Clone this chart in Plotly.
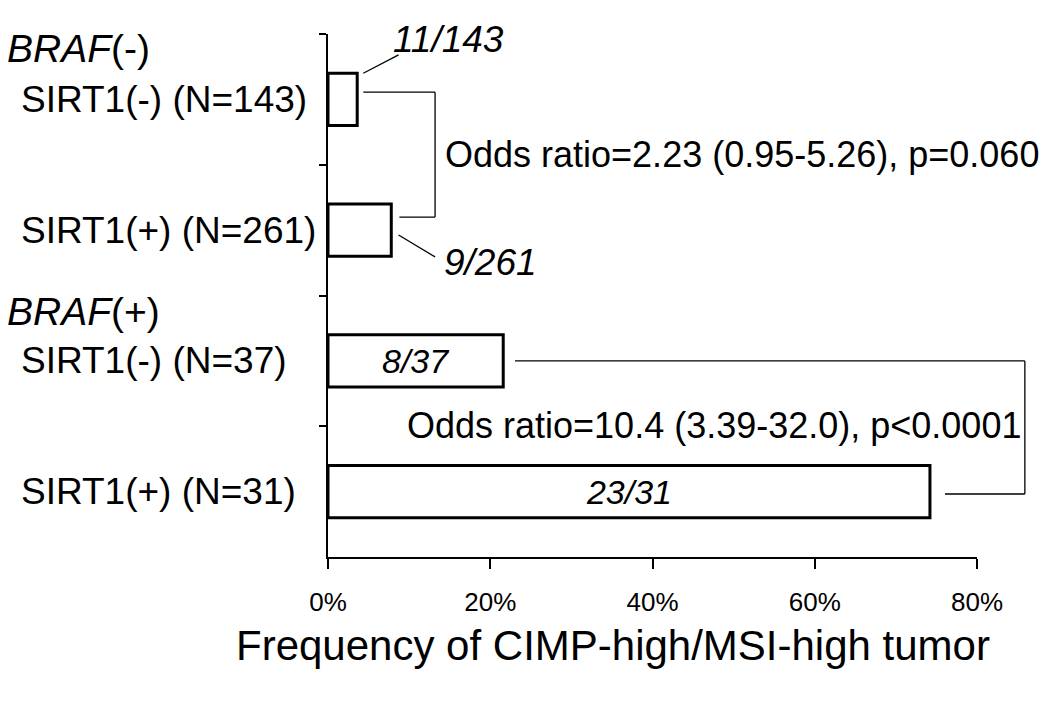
import plotly.graph_objects as go

# ---- data ----
group_labels = ["<i>BRAF</i>(-)", "<i>BRAF</i>(+)"]
categories = ["SIRT1(-) (N=143)", "SIRT1(+) (N=261)", "SIRT1(-) (N=37)", "SIRT1(+) (N=31)"]
values = [3.6, 7.8, 21.6, 74.2]  # percent
fractions = ["11/143", "9/261", "8/37", "23/31"]
odds_texts = ["Odds ratio=2.23 (0.95-5.26), p=0.060",
              "Odds ratio=10.4 (3.39-32.0), p<0.0001"]
x_ticks = [0, 20, 40, 60, 80]
x_ticklabels = ["0%", "20%", "40%", "60%", "80%"]
x_title = "Frequency of CIMP-high/MSI-high tumor"

XMAX = 80
NCAT = len(categories)
FONT = "Liberation Sans, Arial, sans-serif"

# plot area in page pixels (page body has an 8px margin)
PL, PR, PT, PB = 328, 977, 34, 557
PW, PH = PR - PL, PB - PT


def X(p):
    return p / XMAX


def Y(pos):
    return 1 - (pos + 0.5) / NCAT


def PXX(px):
    return (px - PL) / PW


def PXY(py):
    return 1 - (py - PT) / PH


inner_text = [None, None, f"<i>{fractions[2]}</i>", f"<i>{fractions[3]}</i>"]

fig = go.Figure()
fig.add_trace(go.Bar(
    x=values, y=categories, orientation="h", width=0.4,
    marker=dict(color="white", line=dict(color="black", width=3)),
    text=inner_text, textposition="inside", insidetextanchor="middle",
    constraintext="none", textangle=0,
    textfont=dict(family=FONT, size=34, color="black"),
    hoverinfo="skip",
))

shapes = []
ann = []
line = dict(color="black", width=1.3)

# Bracket 1 (BRAF-)
bx1 = values[1] + 5.4
shapes += [
    dict(type="line", xref="paper", yref="paper", x0=X(values[0] + 0.75), x1=X(bx1), y0=Y(-0.055), y1=Y(-0.055), line=line),
    dict(type="line", xref="paper", yref="paper", x0=X(values[1] + 1.0), x1=X(bx1), y0=Y(0.9), y1=Y(0.9), line=line),
    dict(type="line", xref="paper", yref="paper", x0=X(bx1), x1=X(bx1), y0=Y(-0.055), y1=Y(0.9), line=line),
]
# Bracket 2 (BRAF+)
bx2 = 85.9
shapes += [
    dict(type="line", xref="paper", yref="paper", x0=X(values[2] + 1.45), x1=X(bx2), y0=Y(2.0), y1=Y(2.0), line=line),
    dict(type="line", xref="paper", yref="paper", x0=X(values[3] + 1.85), x1=X(bx2), y0=Y(3.018), y1=Y(3.018), line=line),
    dict(type="line", xref="paper", yref="paper", x0=X(bx2), x1=X(bx2), y0=Y(2.0), y1=Y(3.018), line=line),
]
# Leader lines for outside labels
shapes += [
    dict(type="line", xref="paper", yref="paper", x0=X(values[0] + 0.75), x1=X(values[0] + 5.1),
         y0=Y(-0.2), y1=Y(-0.34), line=line),
    dict(type="line", xref="paper", yref="paper", x0=X(values[1] + 0.9), x1=X(values[1] + 5.4),
         y0=Y(1.037), y1=Y(1.205), line=line),
]

ann.append(dict(text=f"<i>{fractions[0]}</i>", x=X(values[0] + 4.2), y=Y(-0.46), xref="paper", yref="paper",
                xanchor="left", yanchor="middle", showarrow=False,
                font=dict(family=FONT, size=37, color="black")))
ann.append(dict(text=f"<i>{fractions[1]}</i>", x=X(values[1] + 6.2), y=Y(1.245), xref="paper", yref="paper",
                xanchor="left", yanchor="middle", showarrow=False,
                font=dict(family=FONT, size=37, color="black")))
ann.append(dict(text=odds_texts[0], x=PXX(443), y=PXY(155), xref="paper", yref="paper",
                xanchor="left", yanchor="middle", showarrow=False,
                font=dict(family=FONT, size=36, color="black")))
ann.append(dict(text=odds_texts[1], x=PXX(405), y=PXY(425), xref="paper", yref="paper",
                xanchor="left", yanchor="middle", showarrow=False,
                font=dict(family=FONT, size=36, color="black")))

# Category labels
cat_y = [0.0, 1.0, 2.0, 3.0]
for i, c in enumerate(categories):
    ann.append(dict(text=c, x=PXX(19), y=Y(cat_y[i]), xref="paper", yref="paper",
                    xanchor="left", yanchor="middle", showarrow=False,
                    font=dict(family=FONT, size=37, color="black")))
# Group labels
grp_y = [-0.39, 1.625]
for g, gy in zip(group_labels, grp_y):
    ann.append(dict(text=g, x=PXX(5), y=Y(gy), xref="paper", yref="paper",
                    xanchor="left", yanchor="middle", showarrow=False,
                    font=dict(family=FONT, size=39, color="black")))
# Axis title
ann.append(dict(text=x_title, x=PXX(613), y=PXY(645), xref="paper", yref="paper",
                xanchor="center", yanchor="middle", showarrow=False,
                font=dict(family=FONT, size=42, color="black")))

fig.update_layout(
    width=1050, height=710,
    margin=dict(l=PL - 8, r=1050 + 8 - PR, t=PT - 8, b=710 + 8 - PB, autoexpand=False),
    paper_bgcolor="white", plot_bgcolor="white",
    showlegend=False,
    shapes=shapes, annotations=ann,
    xaxis=dict(range=[0, XMAX], tickvals=x_ticks, ticktext=x_ticklabels,
               ticks="outside", ticklen=10, tickwidth=1.5, tickcolor="black",
               showline=True, linecolor="black", linewidth=1.5,
               showgrid=False, zeroline=False, ticklabelstandoff=11,
               tickfont=dict(family=FONT, size=26, color="black")),
    yaxis=dict(categoryorder="array", categoryarray=categories, range=[NCAT - 0.5, -0.5],
               ticks="outside", ticklen=7, tickwidth=1.5, tickcolor="black", tickson="boundaries",
               showline=True, linecolor="black", linewidth=1.5,
               showgrid=False, zeroline=False, showticklabels=False),
)

fig.write_html("out.html")
